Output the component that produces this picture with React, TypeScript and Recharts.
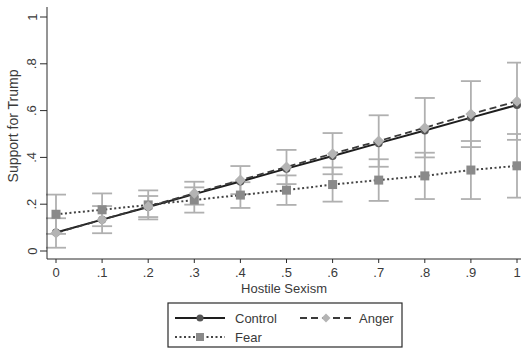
import { LineChart, Line, XAxis, YAxis, ErrorBar } from 'recharts';

// hostile sexism levels
const xs = [0, 0.1, 0.2, 0.3, 0.4, 0.5, 0.6, 0.7, 0.8, 0.9, 1];
const xTickLabels = ['0', '.1', '.2', '.3', '.4', '.5', '.6', '.7', '.8', '.9', '1'];
const yTicks = [0, 0.2, 0.4, 0.6, 0.8, 1];
const yTickLabels = ['0', '.2', '.4', '.6', '.8', '1'];

// predicted support, per condition
const control = [0.079, 0.134, 0.188, 0.243, 0.297, 0.352, 0.406, 0.461, 0.515, 0.57, 0.624];
const anger = [0.077, 0.134, 0.19, 0.247, 0.303, 0.359, 0.416, 0.47, 0.527, 0.585, 0.64];
const fear = [0.157, 0.176, 0.197, 0.218, 0.239, 0.26, 0.284, 0.303, 0.321, 0.346, 0.364];

// 95% CI half widths
const angerCI = [0.063, 0.058, 0.045, 0.049, 0.06, 0.073, 0.088, 0.11, 0.127, 0.141, 0.165];
const fearCI = [0.084, 0.07, 0.062, 0.054, 0.055, 0.063, 0.073, 0.089, 0.099, 0.124, 0.136];

const rows = xs.map((x, i) => ({
    x,
    control: control[i],
    anger: anger[i],
    fear: fear[i],
    angerErr: angerCI[i],
    fearErr: fearCI[i],
}));

const FONT = '"Liberation Sans", Arial, sans-serif';
const AXIS = '#2a2a2a';
const TEXT = '#3a3a3a';
const CI = '#b0b0b0';

const XTick = ({ x, y, payload, index }: any) => (
    <text x={x} y={y + 2} dy="0.71em" textAnchor="middle" fontSize={13} fill={TEXT} fontFamily={FONT}>
        {xTickLabels[index] ?? payload.value}
    </text>
);

const YTick = ({ y, payload, index }: any) => (
    <text
        x={32}
        y={y}
        transform={`rotate(-90 32 ${y})`}
        textAnchor="middle"
        dominantBaseline="central"
        fontSize={13}
        fill={TEXT}
        fontFamily={FONT}
    >
        {yTickLabels[index] ?? payload.value}
    </text>
);

const ControlDot = ({ cx, cy, index }: any) => (
    <circle key={`c-${index}`} cx={cx} cy={cy} r={4} fill="#555" />
);
const AngerDot = ({ cx, cy, index }: any) => (
    <polygon
        key={`a-${index}`}
        points={`${cx},${cy - 5.5} ${cx + 5.5},${cy} ${cx},${cy + 5.5} ${cx - 5.5},${cy}`}
        fill="#b4b4b4"
    />
);
const FearDot = ({ cx, cy, index }: any) => (
    <rect key={`f-${index}`} x={cx - 4.5} y={cy - 4.5} width={9} height={9} fill="#8a8a8a" />
);

function LegendBox() {
    return (
        <svg width={236} height={46} style={{ position: 'absolute', left: 167, top: 302 }}>
            <rect x={1} y={1} width={234} height={44} fill="#fff" stroke={AXIS} strokeWidth={1.2} />
            <line x1={8} x2={58} y1={16} y2={16} stroke="#1e1e1e" strokeWidth={2} />
            <circle cx={33} cy={16} r={3.5} fill="#555" />
            <text x={68} y={16} dominantBaseline="central" fontSize={13} fill={TEXT} fontFamily={FONT}>Control</text>
            <line x1={133} x2={185} y1={16} y2={16} stroke="#3a3a3a" strokeWidth={1.8} strokeDasharray="7 4" />
            <polygon points="159,11.5 163.5,16 159,20.5 154.5,16" fill="#b4b4b4" />
            <text x={192} y={16} dominantBaseline="central" fontSize={13} fill={TEXT} fontFamily={FONT}>Anger</text>
            <line x1={8} x2={58} y1={35} y2={35} stroke="#444" strokeWidth={2} strokeDasharray="2 2.5" />
            <rect x={29} y={31} width={8} height={8} fill="#8a8a8a" />
            <text x={68} y={35} dominantBaseline="central" fontSize={13} fill={TEXT} fontFamily={FONT}>Fear</text>
        </svg>
    );
}

export default function App() {
    return (
        <div style={{ position: 'absolute', left: 0, top: 0, width: 521, height: 348, background: '#fff' }}>
            <LineChart width={521} height={348} data={rows} margin={{ top: 7, right: 0, left: 0, bottom: 49 }}>
                <XAxis
                    dataKey="x"
                    type="number"
                    domain={[0, 1]}
                    ticks={xs}
                    padding={{ left: 9, right: 4 }}
                    height={40}
                    tickSize={4}
                    tickMargin={3}
                    stroke={AXIS}
                    tickLine={{ stroke: AXIS }}
                    tick={<XTick />}
                    interval={0}
                    label={{ value: 'Hostile Sexism', position: 'insideBottom', offset: 6, fontSize: 13, fill: TEXT, fontFamily: FONT }}
                />
                <XAxis
                    xAxisId="top"
                    orientation="top"
                    dataKey="x"
                    type="number"
                    domain={[0, 1]}
                    height={0}
                    tick={false}
                    tickLine={false}
                    stroke={AXIS}
                />
                <YAxis
                    type="number"
                    domain={[0, 1]}
                    ticks={yTicks}
                    width={47}
                    padding={{ top: 10, bottom: 8 }}
                    tickSize={7}
                    stroke={AXIS}
                    tickLine={{ stroke: AXIS }}
                    tick={<YTick />}
                    interval={0}
                    label={{
                        content: () => (
                            <text
                                x={13}
                                y={126}
                                transform="rotate(-90 13 126)"
                                textAnchor="middle"
                                dominantBaseline="central"
                                fontSize={14}
                                fill={TEXT}
                                fontFamily={FONT}
                            >
                                Support for Trump
                            </text>
                        ),
                    }}
                />
                {/* confidence intervals first so they sit under the lines */}
                <Line dataKey="anger" stroke="none" dot={false} activeDot={false} legendType="none" isAnimationActive={false}>
                    <ErrorBar dataKey="angerErr" direction="y" width={10} stroke={CI} strokeWidth={1.8} />
                </Line>
                <Line dataKey="fear" stroke="none" dot={false} activeDot={false} legendType="none" isAnimationActive={false}>
                    <ErrorBar dataKey="fearErr" direction="y" width={10} stroke={CI} strokeWidth={1.8} />
                </Line>
                <Line dataKey="control" type="linear" stroke="#1e1e1e" strokeWidth={2} dot={<ControlDot />} activeDot={false} isAnimationActive={false} />
                <Line dataKey="fear" type="linear" stroke="#444" strokeWidth={2} strokeDasharray="2 2.5" dot={<FearDot />} activeDot={false} isAnimationActive={false} />
                <Line dataKey="anger" type="linear" stroke="#3a3a3a" strokeWidth={1.8} strokeDasharray="7 4" dot={<AngerDot />} activeDot={false} isAnimationActive={false} />
            </LineChart>
            <LegendBox />
        </div>
    );
}
